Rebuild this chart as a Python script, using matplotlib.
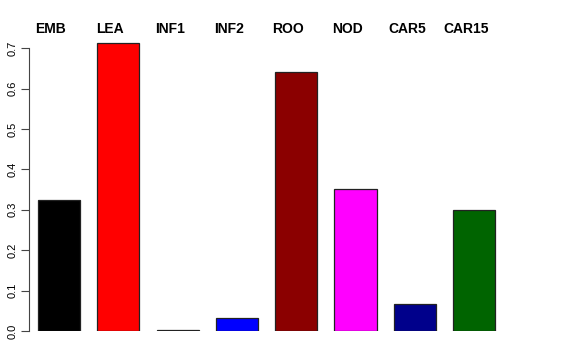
import numpy as np
import matplotlib.pyplot as plt

plt.rcParams['font.family'] = ['Liberation Sans', 'DejaVu Sans']

# data
tissues = ['EMB', 'LEA', 'INF1', 'INF2', 'ROO', 'NOD', 'CAR5', 'CAR15']
values = [0.324, 0.712, 0.002, 0.032, 0.641, 0.351, 0.067, 0.299]
colors = ['black', 'red', '#00CD00', 'blue', '#8B0000', 'magenta', '#00008B', '#006400']
yticks = [0.0, 0.1, 0.2, 0.3, 0.4, 0.5, 0.6, 0.7]

fig = plt.figure(figsize=(5.76, 3.6), dpi=100)
# axes placed in pixels to match the R plot region
ax = fig.add_axes([29 / 576, 29 / 360, 491 / 576, 303 / 360])

x = np.arange(len(tissues))
ax.bar(x, values, width=0.71, color=colors, edgecolor='#222222', linewidth=0.9)

ax.set_xlim(-0.506, 7.774)
ax.set_ylim(0, 0.75)

for s in ['top', 'right', 'bottom']:
    ax.spines[s].set_visible(False)
ax.spines['left'].set_bounds(0, 0.7)
ax.spines['left'].set_color('#444444')
ax.spines['left'].set_linewidth(0.8)
ax.set_xticks([])
ax.set_yticks(yticks)
ax.set_yticklabels(['%.1f' % t for t in yticks], rotation=90, va='center', fontsize=8)
ax.tick_params(axis='y', length=6, width=0.8, color='#444444', pad=2)

# tissue names across the top
for xi, name in zip(x, tissues):
    fig.text((59 - 8 + 59.3 * xi) / 576, 1 - 29 / 360, name, ha='center', va='center',
             fontsize=10, fontweight='bold')

fig.savefig('out.png', dpi=100)
